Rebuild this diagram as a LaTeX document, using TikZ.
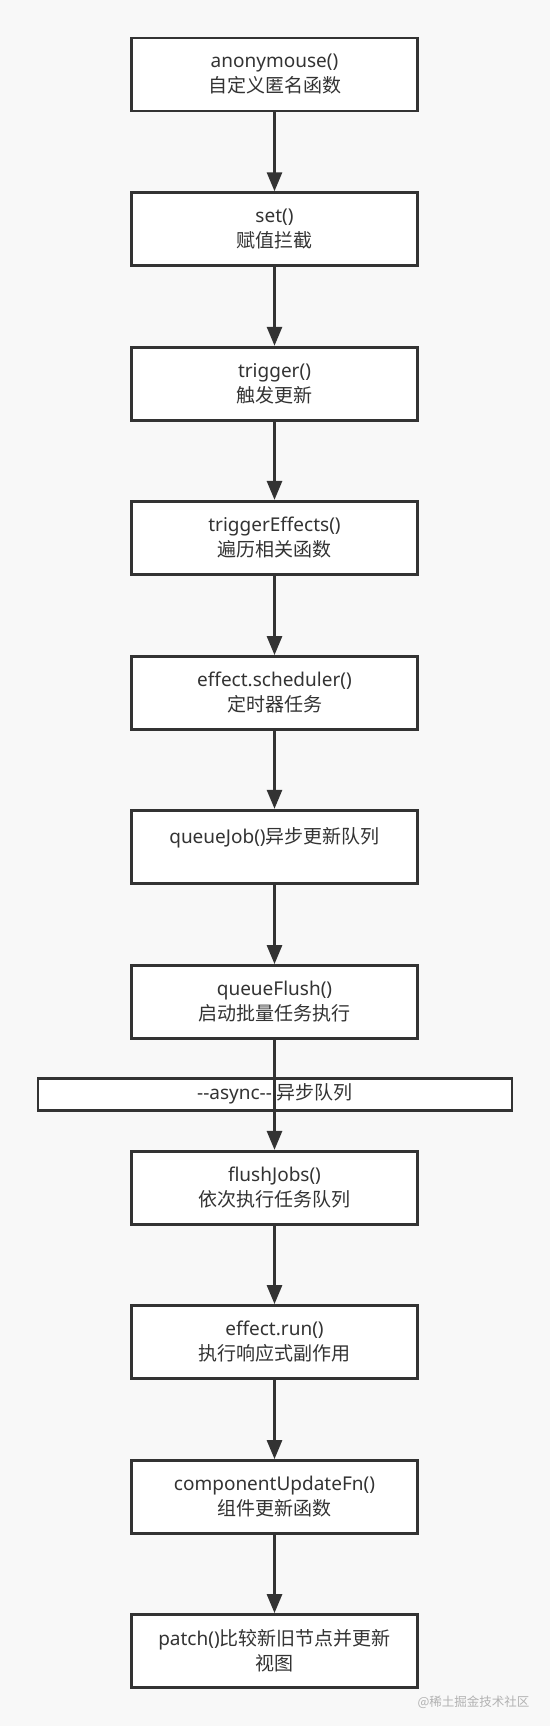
\documentclass[tikz,border=0pt]{standalone}
\usepackage{fontspec}
\setmainfont{Noto Sans}
\newfontfamily\cjk{Noto Sans CJK SC}
\usetikzlibrary{arrows.meta}
\definecolor{ink}{HTML}{333333}
\definecolor{paper}{HTML}{F8F8F8}
\tikzset{
  flowbox/.style={draw=ink, line width=2.8pt, fill=white, text=ink, align=center,
    inner sep=0pt, minimum width=286pt, minimum height=73pt,
    font=\fontsize{19}{25}\selectfont},
  asyncbar/.style={flowbox, minimum width=474pt, minimum height=32pt},
  flowarrow/.style={draw=ink, line width=2.8pt, -{Triangle[width=15pt,length=19pt]}},
}

\begin{document}
\begin{tikzpicture}[x=1pt, y=-1pt]
  % page
  \fill[paper] (0,0) rectangle (550,1726);
  \useasboundingbox (0,0) rectangle (550,1726);
  % steps, top to bottom
  \node[flowbox] (anon)    at (274.5,74.5)  {anonymouse()\\{\cjk 自定义匿名函数}};
  \node[flowbox] (set)     at (274.5,229.2) {set()\\{\cjk 赋值拦截}};
  \node[flowbox] (trigger) at (274.5,383.7) {trigger()\\{\cjk 触发更新}};
  \node[flowbox] (trigEff) at (274.5,537.8) {triggerEffects()\\{\cjk 遍历相关函数}};
  \node[flowbox] (sched)   at (274.5,693)   {effect.scheduler()\\{\cjk 定时器任务}};
  \node[flowbox, text height=16pt, text depth=23pt] (qJob) at (274.5,846.7)
        {queueJob(){\cjk 异步更新队列}};
  \node[flowbox] (qFlush)  at (274.5,1002)  {queueFlush()\\{\cjk 启动批量任务执行}};
  \node[asyncbar] (async)  at (275,1094.2)  {-{}-async-{}- {\cjk 异步队列}};
  \node[flowbox] (flush)   at (274.5,1187.8) {flushJobs()\\{\cjk 依次执行任务队列}};
  \node[flowbox] (run)     at (274.5,1342)  {effect.run()\\{\cjk 执行响应式副作用}};
  \node[flowbox] (cuf)     at (274.5,1497)  {componentUpdateFn()\\{\cjk 组件更新函数}};
  \node[flowbox] (patch)   at (274.5,1651)  {patch(){\cjk 比较新旧节点并更新}\\{\cjk 视图}};
  % arrows
  \foreach \a/\b in {anon/set, set/trigger, trigger/trigEff, trigEff/sched, sched/qJob,
                     qJob/qFlush, qFlush/flush, flush/run, run/cuf, cuf/patch}
    \draw[flowarrow] (\a) -- (\b);
  % watermark
  \node[anchor=east, text=black!30, font=\cjk\fontsize{12.5}{14}\selectfont]
        (mark) at (533,1702) {@稀土掘金技术社区};
\end{tikzpicture}
\end{document}
